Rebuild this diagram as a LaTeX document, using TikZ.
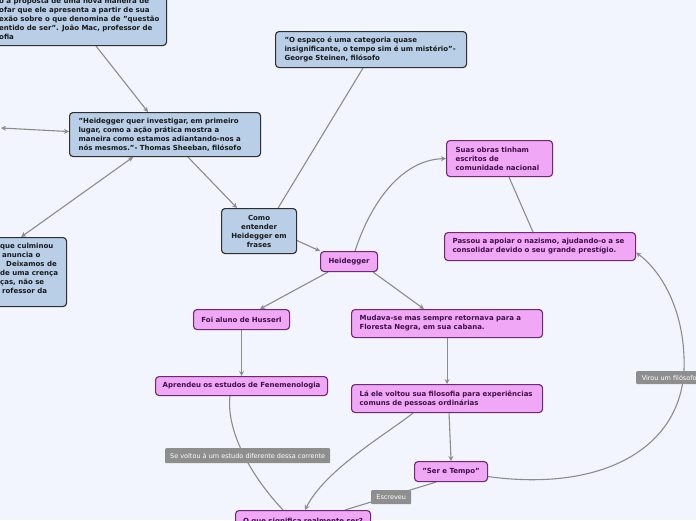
\documentclass[tikz,border=0pt]{standalone}
\usepackage{fontspec}
\setmainfont{DejaVu Sans}
\usetikzlibrary{arrows.meta}
\definecolor{bgc}{HTML}{F2F5FD}
\definecolor{bluefill}{HTML}{B9CFE8}
\definecolor{blueline}{HTML}{2F2F2F}
\definecolor{pinkfill}{HTML}{F0A8F6}
\definecolor{pinkline}{HTML}{6F2876}
\definecolor{pinktext}{HTML}{3E1045}
\definecolor{connc}{HTML}{8C8C8C}
\definecolor{lblfill}{HTML}{8E8E8E}
\pgfdeclarelayer{back}
\pgfsetlayers{back,main}
\tikzset{
 box/.style={draw, rounded corners=3.5pt, line width=1.1pt, anchor=north west, inner ysep=0pt,
   font=\fontsize{7}{9}\selectfont\bfseries},
 bluebox/.style={box, fill=bluefill, draw=blueline, text=black!90},
 pinkbox/.style={box, fill=pinkfill, draw=pinkline, text=pinktext},
 txt/.style={font=\fontsize{7}{9}\selectfont\bfseries, align=left, anchor=north west, inner sep=0pt, text=black!90},
 lbl/.style={fill=lblfill, text=white, font=\fontsize{6.5}{7}\selectfont, rounded corners=1pt,
   inner sep=0pt, anchor=north west},
 conn/.style={draw=connc, line width=1.1pt},
 arr/.style={conn, -{Stealth[length=5pt,width=5pt]}},
 arr2/.style={conn, {Stealth[length=5pt,width=5pt]}-{Stealth[length=5pt,width=5pt]}},
}
\begin{document}
\begin{tikzpicture}[x=1pt,y=-1pt]
\useasboundingbox (0,0) rectangle (696,520);
\begin{pgfonlayer}{back}
\fill[bgc] (0,0) rectangle (696,520);
\end{pgfonlayer}

% blue boxes
\node[bluebox, minimum width=206pt, minimum height=75pt] (tl) at (-40,-30) {};
\node[txt] (tltext) at (-1,-2.5) {o a proposta de uma nova maneira de\\ofar que ele apresenta a partir de sua\\exão sobre o que denomina de "questão\\entido de ser". João Mac, professor de\\ofia};

\node[bluebox, text width=173pt, inner xsep=9pt, minimum height=36pt, align=left] (esp) at (275,31)
 {"O espaço é uma categoria quase\\insignificante, o tempo sim é um mistério"-\\George Steinen, filósofo};

\node[bluebox, text width=173pt, inner xsep=9pt, minimum height=44pt, align=left] (quote) at (69,112)
 {"Heidegger quer investigar, em primeiro\\lugar, como a ação prática mostra a\\maneira como estamos adiantando-nos a\\nós mesmos."- Thomas Sheeban, filósofo};

\node[bluebox, minimum width=96pt, minimum height=69pt] (lb) at (-30,237) {};
\node[txt] (lbtext) at (0,242.5) {que culminou\\\hspace*{2pt}anuncia o\\\hspace*{6pt}Deixamos de\\de uma crença\\ças, não se\\\hspace*{2pt}rofessor da};

\node[bluebox, text width=71pt, inner xsep=2pt, minimum height=45pt, align=center] (como) at (221,208)
 {Como\\entender\\Heidegger em\\frases};

% pink boxes
\node[pinkbox, text width=53pt, inner xsep=2pt, minimum height=20pt, align=center] (heid) at (320,251) {Heidegger};
\node[pinkbox, text width=88pt, inner xsep=9pt, minimum height=36pt, align=left] (suas) at (446,140)
 {Suas obras tinham\\escritos de\\comunidade nacional};
\node[pinkbox, text width=175pt, inner xsep=8pt, minimum height=28pt, align=left] (passou) at (444,232)
 {Passou a apoiar o nazismo, ajudando-o a se\\consolidar devido o seu grande prestígio.};
\node[pinkbox, text width=92pt, inner xsep=2pt, minimum height=20pt, align=center] (foi) at (193,309) {Foi aluno de Husserl};
\node[pinkbox, text width=175pt, inner xsep=8pt, minimum height=28pt, align=left] (mud) at (351,309)
 {Mudava-se mas sempre retornava para a\\Floresta Negra, em sua cabana.};
\node[pinkbox, text width=168pt, inner xsep=2pt, minimum height=19pt, align=center] (apr) at (155,376) {Aprendeu os estudos de Fenemenologia};
\node[pinkbox, text width=175pt, inner xsep=8pt, minimum height=28pt, align=left] (la) at (351,384)
 {Lá ele voltou sua filosofia para experiências\\comuns de pessoas ordinárias};
\node[pinkbox, text width=69pt, inner xsep=2pt, minimum height=20pt, align=center] (ser) at (414,461) {"Ser e Tempo"};
\node[pinkbox, text width=131pt, inner xsep=2pt, minimum height=22pt, align=center] (oque) at (235,510) {O que significa realmente ser?};

% labels
\node[lbl, minimum width=165pt, minimum height=15pt] (l1) at (165,448) {Se voltou á um estudo diferente dessa corrente};
\node[lbl, minimum width=40pt, minimum height=14pt] (l2) at (371,490) {Escreveu};
\node[lbl, minimum width=66pt, minimum height=13pt] (l3) at (636,371) {Virou um filósofo};

\coordinate (leftend) at (1,128);

\begin{pgfonlayer}{back}
\draw[arr] ([xshift=-71pt]tl.south east) -- ([xshift=79pt]quote.north west);
\draw[arr2] (leftend) -- ([yshift=3pt]quote.west);
\draw[arr2] ([xshift=-46pt]lb.north east) -- ([xshift=64pt]quote.south west);
\draw[arr] ([xshift=119pt]quote.south west) -- ([xshift=16pt]como.north west);
\draw[conn] ([xshift=88pt]esp.south west) -- ([xshift=-19pt]como.north east);
\draw[arr] ([yshift=-9.5pt]como.east) -- (heid.north west);
\draw[arr] ([xshift=35pt]heid.north west) .. controls (370,205) and (400,160) .. (suas.west);
\draw[conn] ([xshift=63pt]suas.south west) -- ([xshift=89pt]passou.north west);
\draw[arr] ([xshift=8pt]heid.south west) -- ([xshift=67pt]foi.north west);
\draw[arr] ([xshift=-5pt]heid.south east) -- ([xshift=73pt]mud.north west);
\draw[arr] (foi.south) -- (apr.north);
\draw[arr] (mud.south) -- (la.north);
\draw[arr] ([xshift=2pt]la.south) -- (ser.north);
\draw[arr] ([xshift=62pt]la.south west) .. controls (385,435) and (325,470) .. ([xshift=70pt]oque.north west);
\draw[conn] ([xshift=75pt]apr.south west) .. controls (226,430) and (250,475) .. ([xshift=48pt]oque.north west);
\draw[conn] ([xshift=22pt]ser.south west) -- ([xshift=110pt]oque.north west);
\draw[arr] ([yshift=-5pt]ser.east) .. controls (600,492) and (680,450) .. (684,370)
   .. controls (686,310) and (660,270) .. ([yshift=-6pt]passou.east);
\end{pgfonlayer}
\end{tikzpicture}
\end{document}
